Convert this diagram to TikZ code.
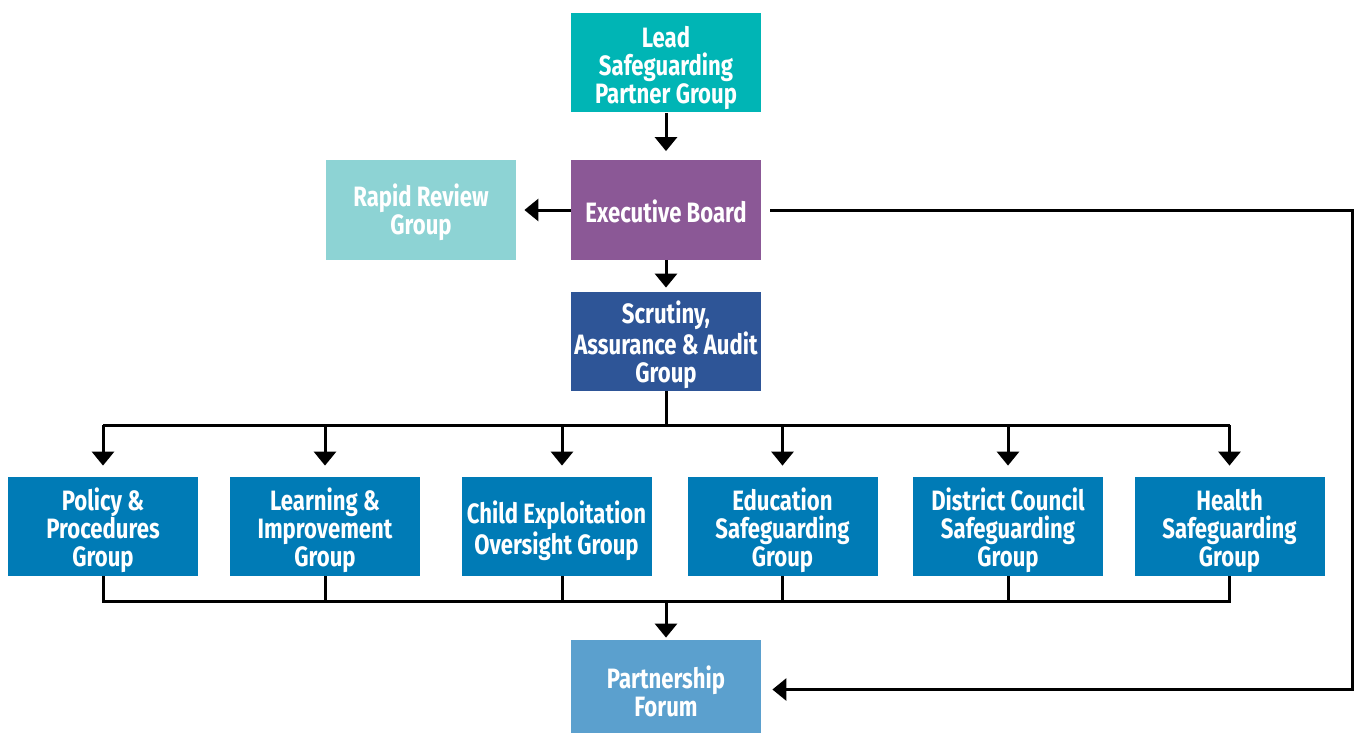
\documentclass[tikz,border=0pt]{standalone}
\usepackage{fontspec}
\setmainfont{Fira Sans}[FakeStretch=0.79]
\usetikzlibrary{arrows.meta}
\definecolor{cLead}{RGB}{0,181,181}
\definecolor{cExec}{RGB}{139,88,150}
\definecolor{cRapid}{RGB}{141,211,212}
\definecolor{cScr}{RGB}{46,85,151}
\definecolor{cGrp}{RGB}{0,123,182}
\definecolor{cPart}{RGB}{91,160,206}
\begin{document}
\begin{tikzpicture}[x=0.5pt,y=-0.5pt,
  box/.style={minimum width=95pt, minimum height=49.5pt, inner sep=0pt},
  lbl/.style={inner sep=0pt, text=white, font=\bfseries\fontsize{14}{14}\selectfont, align=center},
  conn/.style={line width=1.5pt},
  arr/.style={conn,-{Triangle[width=11pt,length=7pt]}}]
\useasboundingbox (0,0) rectangle (1360,733);
\node[box,fill=cLead] (lead) at (666,63) {};
\node[box,fill=cExec] (exec) at (666,210) {};
\node[box,fill=cRapid] (rapid) at (421,210) {};
\node[box,fill=cScr] (scr) at (666,341.5) {};
\node[box,fill=cGrp] (pol) at (103,526.5) {};
\node[box,fill=cGrp] (lea) at (325,526.5) {};
\node[box,fill=cGrp] (chi) at (556.5,526.5) {};
\node[box,fill=cGrp] (edu) at (782.5,526.5) {};
\node[box,fill=cGrp] (dis) at (1008,526.5) {};
\node[box,fill=cGrp] (hea) at (1229.5,526.5) {};
\node[box,fill=cPart] (part) at (666,689.5) {};
\node[lbl] (leadT) at ([yshift=-2.5pt]lead.center) {Lead\\Safeguarding\\Partner Group};
\node[lbl] (execT) at ([yshift=-0.8pt]exec.center) {Executive Board};
\node[lbl] (rapidT) at ([yshift=-1.2pt]rapid.center) {Rapid Review\\Group};
\node[lbl] (scrT) at ([yshift=-1.8pt]scr.center) {Scrutiny,\\Assurance \& Audit\\Group};
\node[lbl] (polT) at ([yshift=-2pt]pol.center) {Policy \&\\Procedures\\Group};
\node[lbl] (leaT) at ([yshift=-2pt]lea.center) {Learning \&\\Improvement\\Group};
\node[lbl] (chiT) at ([yshift=-2pt]chi.center) {Child Exploitation\\Oversight Group};
\node[lbl] (eduT) at ([yshift=-2pt]edu.center) {Education\\Safeguarding\\Group};
\node[lbl] (disT) at ([yshift=-2pt]dis.center) {District Council\\Safeguarding\\Group};
\node[lbl] (heaT) at ([yshift=-2pt]hea.center) {Health\\Safeguarding\\Group};
\node[lbl] (partT) at ([yshift=-1pt]part.center) {Partnership\\Forum};
\coordinate (bus1) at (666,425);
\coordinate (bus2) at (666,601);
\coordinate (rt) at (1352,210);
\coordinate (chiX) at ([xshift=2.75pt]chi.north);
\coordinate (chiB) at ([xshift=2.75pt]chi.south);
\draw[arr, shorten >=4.5pt] (lead) -- (exec);
\draw[arr, shorten >=4pt] (exec) -- (rapid);
\draw[arr, shorten >=2pt] (exec) -- (scr);
\draw[conn] (scr.south) -- (bus1);
\draw[conn] (pol.north |- bus1) -- (hea.north |- bus1);
\foreach \n in {pol,lea,edu,dis,hea}{
  \draw[arr, shorten >=5.5pt] (\n.north |- bus1) -- (\n.north);
}
\draw[arr, shorten >=5.5pt] (chiX |- bus1) -- (chiX);
\draw[conn] (pol.south) |- (bus2) -| (hea.south);
\foreach \n in {lea,edu,dis}{
  \draw[conn] (\n.south) -- (\n.south |- bus2);
}
\draw[conn] (chiB) -- (chiB |- bus2);
\draw[arr, shorten >=1pt] (bus2) -- (part);
\draw[arr, shorten >=5.5pt] ([xshift=4.5pt]exec.east) -- (rt) |- (part.east);
\end{tikzpicture}
\end{document}
